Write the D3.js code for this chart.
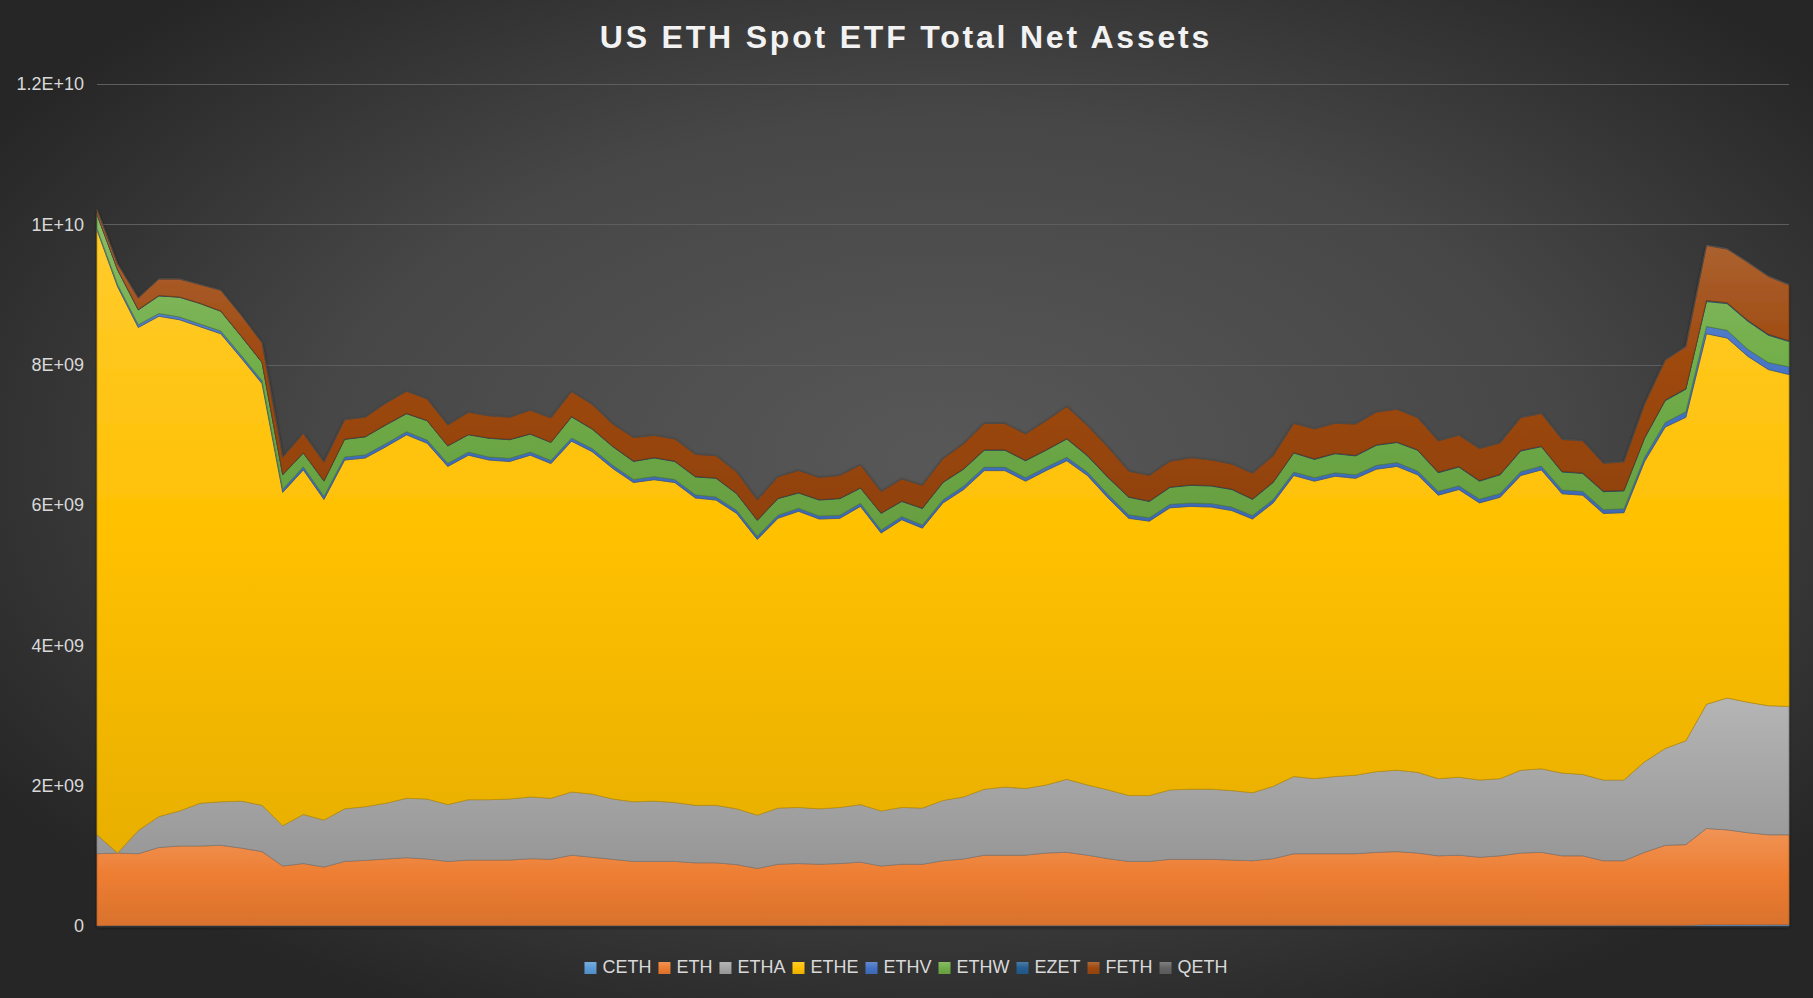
<!DOCTYPE html>
<html>
<head>
<meta charset="utf-8">
<script src="https://cdn.jsdelivr.net/npm/d3@7"></script>
<style>
html,body{margin:0;padding:0;background:#333;}
svg{display:block;}
</style>
</head>
<body>
<svg id="chart" width="1813" height="998"></svg>
<script>
// ---- data (USD billions), one value per trading day ----
const days = d3.range(83);
const seriesNames = ["CETH","ETH","ETHA","ETHE","ETHV","ETHW","EZET","FETH","QETH"];
const yTickValues = [0, 2e9, 4e9, 6e9, 8e9, 10e9, 12e9];
const yTickLabels = ["0","2E+09","4E+09","6E+09","8E+09","1E+10","1.2E+10"];
const chartTitle = "US ETH Spot ETF Total Net Assets";

const CETH = [0.005,0.006,0.006,0.007,0.007,0.007,0.007,0.007,0.007,0.006,0.006,0.006,0.006,0.007,0.007,0.007,0.007,0.007,0.007,0.007,0.007,
0.008,0.008,0.008,0.008,0.008,0.008,0.008,0.008,0.008,0.008,0.008,0.008,0.008,0.008,0.008,0.008,0.008,0.008,0.008,0.008,0.008,
0.009,0.009,0.009,0.009,0.009,0.009,0.009,0.009,0.009,0.009,0.009,0.009,0.009,0.009,0.009,0.009,0.009,0.009,0.009,
0.011,0.011,0.011,0.011,0.011,0.011,0.011,0.011,0.011,0.011,0.011,0.011,0.011,0.011,0.011,0.011,0.011,
0.018,0.019,0.019,0.018,0.018];
const ETH = [1.025,1.034,1.024,1.113,1.133,1.133,1.143,1.103,1.053,0.849,0.884,0.834,0.914,0.929,0.948,0.967,0.948,0.913,0.933,0.933,0.933,
0.952,0.942,1.002,0.972,0.942,0.912,0.912,0.912,0.892,0.892,0.867,0.812,0.872,0.882,0.872,0.882,0.902,0.847,0.872,0.872,0.922,
0.946,1.001,1.001,1.001,1.031,1.041,1.001,0.951,0.911,0.911,0.941,0.941,0.941,0.931,0.921,0.951,1.021,1.021,1.021,
1.019,1.039,1.049,1.029,0.989,0.999,0.969,0.989,1.029,1.039,0.989,0.989,0.919,0.919,1.039,1.139,1.149,
1.372,1.351,1.311,1.282,1.282];
const ETHA = [0.27,0.0,0.33,0.44,0.50,0.61,0.62,0.67,0.66,0.575,0.70,0.67,0.75,0.764,0.795,0.846,0.855,0.81,0.86,0.86,0.87,
0.88,0.87,0.90,0.90,0.86,0.85,0.86,0.84,0.82,0.82,0.795,0.76,0.80,0.80,0.79,0.80,0.82,0.785,0.81,0.80,0.86,
0.885,0.94,0.97,0.95,0.97,1.04,1.00,0.98,0.94,0.94,0.99,1.00,1.00,0.99,0.97,1.03,1.10,1.07,1.10,
1.12,1.15,1.16,1.15,1.10,1.11,1.10,1.10,1.18,1.19,1.18,1.16,1.15,1.15,1.29,1.38,1.48,
1.77,1.88,1.86,1.84,1.83];
const ETHE = [8.62,8.07,7.17,7.13,7.00,6.79,6.67,6.31,6.01,4.75,4.91,4.57,4.97,4.97,5.08,5.18,5.07,4.82,4.91,4.84,4.81,
4.87,4.77,5.00,4.88,4.71,4.55,4.58,4.56,4.38,4.35,4.21,3.93,4.13,4.22,4.13,4.12,4.25,3.96,4.10,3.99,4.24,
4.38,4.54,4.51,4.38,4.48,4.54,4.41,4.16,3.95,3.91,4.02,4.03,4.02,3.99,3.90,4.04,4.29,4.24,4.28,
4.23,4.31,4.33,4.24,4.04,4.10,3.95,4.01,4.20,4.26,3.98,3.98,3.80,3.81,4.28,4.58,4.61,
5.28,5.13,4.93,4.79,4.73];
const ETHV = [0.02,0.03,0.04,0.04,0.04,0.04,0.04,0.04,0.04,0.045,0.045,0.045,0.045,0.045,0.045,0.045,0.045,0.045,0.045,0.045,0.045,
0.045,0.045,0.045,0.045,0.045,0.045,0.045,0.045,0.045,0.045,0.045,0.045,0.045,0.045,0.045,0.045,0.045,0.045,0.045,0.045,0.045,
0.05,0.05,0.05,0.05,0.05,0.05,0.05,0.05,0.05,0.05,0.05,0.05,0.05,0.05,0.05,0.05,0.05,0.05,0.05,
0.05,0.055,0.055,0.055,0.055,0.055,0.055,0.055,0.055,0.055,0.055,0.055,0.055,0.055,0.06,0.067,0.08,
0.105,0.11,0.10,0.10,0.11];
const ETHW = [0.20,0.21,0.21,0.25,0.28,0.29,0.28,0.27,0.26,0.205,0.195,0.215,0.25,0.255,0.265,0.255,0.275,0.245,0.245,0.265,0.265,
0.255,0.255,0.30,0.275,0.265,0.255,0.265,0.255,0.255,0.265,0.235,0.225,0.235,0.215,0.225,0.235,0.215,0.235,0.215,0.235,0.245,
0.24,0.24,0.24,0.24,0.24,0.26,0.23,0.24,0.25,0.23,0.24,0.25,0.25,0.25,0.23,0.24,0.27,0.26,0.27,
0.27,0.285,0.285,0.295,0.265,0.265,0.255,0.265,0.295,0.275,0.255,0.255,0.255,0.255,0.27,0.31,0.32,
0.355,0.38,0.40,0.39,0.36];
const EZET = [0.004,0.004,0.005,0.005,0.005,0.005,0.005,0.005,0.005,0.005,0.005,0.005,0.006,0.006,0.006,0.006,0.006,0.006,0.006,0.006,0.006,
0.006,0.006,0.007,0.007,0.007,0.007,0.007,0.007,0.007,0.007,0.007,0.007,0.007,0.007,0.007,0.007,0.007,0.007,0.007,0.007,0.007,
0.008,0.008,0.008,0.008,0.008,0.008,0.008,0.008,0.008,0.008,0.008,0.008,0.008,0.008,0.008,0.008,0.009,0.009,0.009,
0.009,0.009,0.009,0.009,0.009,0.009,0.009,0.009,0.009,0.009,0.009,0.009,0.009,0.009,0.010,0.010,0.011,
0.013,0.013,0.013,0.012,0.012];
const FETH = [0.065,0.08,0.165,0.235,0.255,0.265,0.295,0.295,0.275,0.245,0.275,0.265,0.275,0.275,0.305,0.315,0.305,0.295,0.315,0.315,0.315,
0.335,0.345,0.355,0.345,0.315,0.335,0.315,0.315,0.315,0.315,0.305,0.285,0.305,0.315,0.315,0.325,0.325,0.305,0.315,0.325,0.335,
0.355,0.375,0.375,0.375,0.415,0.455,0.425,0.425,0.365,0.365,0.365,0.385,0.365,0.355,0.365,0.375,0.415,0.425,0.425,
0.445,0.465,0.465,0.455,0.445,0.445,0.455,0.445,0.465,0.465,0.455,0.455,0.395,0.405,0.475,0.565,0.595,
0.785,0.765,0.825,0.825,0.795];
const QETH = [0.003,0.003,0.003,0.004,0.004,0.004,0.004,0.004,0.004,0.004,0.004,0.004,0.004,0.004,0.004,0.004,0.004,0.004,0.004,0.004,0.004,
0.005,0.005,0.005,0.005,0.005,0.005,0.005,0.005,0.005,0.005,0.005,0.005,0.005,0.005,0.005,0.005,0.005,0.005,0.005,0.005,0.005,
0.005,0.005,0.005,0.005,0.005,0.005,0.005,0.005,0.005,0.005,0.005,0.005,0.005,0.005,0.005,0.005,0.006,0.006,0.006,
0.006,0.006,0.006,0.006,0.006,0.006,0.006,0.006,0.006,0.006,0.006,0.006,0.006,0.006,0.006,0.007,0.007,
0.008,0.008,0.008,0.008,0.008];

const seriesData = {CETH, ETH, ETHA, ETHE, ETHV, ETHW, EZET, FETH, QETH};
const seriesColors = {CETH:"#5b9bd5", ETH:"#ed7d31", ETHA:"#a5a5a5", ETHE:"#ffc000", ETHV:"#4472c4",
  ETHW:"#70ad47", EZET:"#255e91", FETH:"#9e480e", QETH:"#636363"};

// ---- build table for the stack ----
const table = days.map((d, i) => {
  const row = {day: d};
  seriesNames.forEach(k => row[k] = seriesData[k][i] * 1e9);
  return row;
});

const W = 1813, H = 998;
const margin = {left: 97, right: 24, top: 84, bottom: 72};
const svg = d3.select("#chart");
const defs = svg.append("defs");

// background
const bg = defs.append("radialGradient").attr("id","bg")
  .attr("cx","0.52").attr("cy","0.46").attr("r","0.62")
  .attr("gradientUnits","objectBoundingBox");
bg.append("stop").attr("offset","0").attr("stop-color","#585858");
bg.append("stop").attr("offset","0.55").attr("stop-color","#474747");
bg.append("stop").attr("offset","1").attr("stop-color","#262626");
svg.append("rect").attr("width",W).attr("height",H).attr("fill","url(#bg)");

// shadow filter
const f = defs.append("filter").attr("id","shadow").attr("x","-5%").attr("y","-5%").attr("width","110%").attr("height","110%");
f.append("feDropShadow").attr("dx",0).attr("dy",1.5).attr("stdDeviation",1.6)
  .attr("flood-color","#000").attr("flood-opacity",0.55);

const x = d3.scaleLinear().domain([0, days.length - 1]).range([margin.left, W - margin.right]);
const y = d3.scaleLinear().domain([0, 12e9]).range([H - margin.bottom, margin.top]);

// gridlines
svg.append("g").selectAll("line").data(yTickValues.filter(v => v > 0)).join("line")
  .attr("x1", margin.left).attr("x2", W - margin.right)
  .attr("y1", d => Math.round(y(d)) + 0.5).attr("y2", d => Math.round(y(d)) + 0.5)
  .attr("stroke", "#5e5e5e").attr("stroke-width", 1.2);

// y axis labels
const yAxis = d3.axisLeft(y).tickValues(yTickValues)
  .tickFormat((d, i) => yTickLabels[i]).tickSize(0).tickPadding(13);
const yg = svg.append("g").attr("transform", `translate(${margin.left},0)`).call(yAxis);
yg.select(".domain").remove();
yg.selectAll("text").attr("fill", "#d9d9d9")
  .style("font-family", "'Liberation Sans', Arial, Helvetica, sans-serif").style("font-size", "18px");

// gradients for each series
seriesNames.forEach(k => {
  const c = seriesColors[k];
  const g = defs.append("linearGradient").attr("id", "grad-" + k)
    .attr("x1", 0).attr("y1", 0).attr("x2", 0).attr("y2", 1);
  g.append("stop").attr("offset", "0").attr("stop-color", d3.interpolateRgb(c, "#ffffff")(0.18));
  g.append("stop").attr("offset", "0.5").attr("stop-color", c);
  g.append("stop").attr("offset", "1").attr("stop-color", d3.interpolateRgb(c, "#000000")(0.09));
});

const stack = d3.stack().keys(seriesNames).order(d3.stackOrderNone).offset(d3.stackOffsetNone);
const layers = stack(table);

const area = d3.area()
  .x((d, i) => x(days[i]))
  .y0(d => y(d[0]))
  .y1(d => y(d[1]))
  .curve(d3.curveLinear);

const plot = svg.append("g").attr("filter", "url(#shadow)");
plot.selectAll("path").data(layers).join("path")
  .attr("d", area)
  .attr("fill", d => `url(#grad-${d.key})`)
  .attr("stroke", d => d3.interpolateRgb(seriesColors[d.key], "#000")(0.25))
  .attr("stroke-width", 0.7)
  .attr("stroke-linejoin", "round");

// baseline
svg.append("line").attr("x1", margin.left).attr("x2", W - margin.right)
  .attr("y1", y(0) + 1).attr("y2", y(0) + 1).attr("stroke", "#2e2e2e").attr("stroke-width", 1.5);

// title
svg.append("text").attr("x", 906).attr("y", 48).attr("text-anchor", "middle")
  .attr("fill", "#f2f2f2")
  .style("font-family", "'Liberation Sans', Arial, Helvetica, sans-serif")
  .style("font-weight", "bold").style("font-size", "32px").style("letter-spacing", "2.8px")
  .text(chartTitle);

// legend
const legend = svg.append("g");
const items = legend.selectAll("g").data(seriesNames).join("g");
items.append("rect").attr("width", 12).attr("height", 12).attr("y", -11)
  .attr("fill", d => `url(#grad-${d})`);
items.append("text").attr("x", 18).attr("y", 0)
  .attr("fill", "#d9d9d9")
  .style("font-family", "'Liberation Sans', Arial, Helvetica, sans-serif").style("font-size", "18px")
  .text(d => d);
let cx = 0;
const offsets = [];
items.each(function() {
  offsets.push(cx);
  const tw = d3.select(this).select("text").node().getComputedTextLength();
  cx += 18 + tw + 7;
});
const totalW = cx - 7;
const startX = 906 - totalW / 2;
items.attr("transform", (d, i) => `translate(${startX + offsets[i]},973)`);
</script>
</body>
</html>
